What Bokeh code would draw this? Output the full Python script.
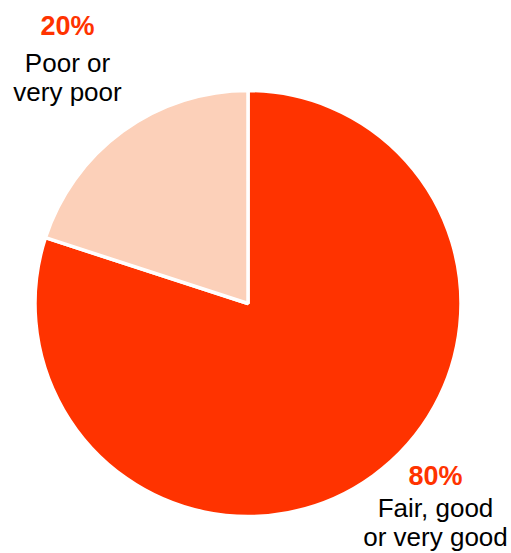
from bokeh.plotting import figure
from bokeh.models import Range1d, ColumnDataSource
from bokeh.core.properties import value
from bokeh.embed import file_html
from bokeh.resources import INLINE
import math

categories = ["Fair, good or very good", "Poor or very poor"]
shares = [80, 20]
pct_labels = ["80%", "20%"]
name_lines = [["Fair, good", "or very good"], ["Poor or", "very poor"]]
colors = ["#FF3300", "#FCD0B9"]

W, H = 511, 553
p = figure(width=W, height=H, output_backend="svg", toolbar_location=None,
           x_range=Range1d(0, W), y_range=Range1d(0, H), min_border=0)
p.axis.visible = False
p.grid.visible = False
p.outline_line_color = None
p.background_fill_color = "white"

cx, cy, r = 247.5, H - 303, 213
total = sum(shares)
starts, ends = [], []
ang = math.pi / 2
for s in shares:
    a = 2 * math.pi * s / total
    starts.append(ang)
    ang -= a
    ends.append(ang)

src = ColumnDataSource(dict(start=starts, end=ends, color=colors, cat=categories))
p.wedge(x=cx, y=cy, radius=r, start_angle="start", end_angle="end",
        direction="clock", fill_color="color", line_color="white",
        line_width=3.5, source=src)

# label positions (layout, pixel coords from top)
label_pos = [(435, 475, 507, 536), (67, 25, 62, 91)]
for i in range(len(categories)):
    x, yp, y1, y2 = label_pos[i]
    p.text(x=[x], y=[H - yp], text=[pct_labels[i]], text_align="center",
           text_baseline="alphabetic", text_font=value("Liberation Sans"),
           text_font_size="27px", text_font_style="bold", text_color="#FF3300")
    for ln, yy in zip(name_lines[i], (y1, y2)):
        p.text(x=[x], y=[H - yy], text=[ln], text_align="center",
               text_baseline="alphabetic", text_font=value("Liberation Sans"),
               text_font_size="26px", text_color="black")

open("out.html", "w").write(file_html(p, INLINE))
